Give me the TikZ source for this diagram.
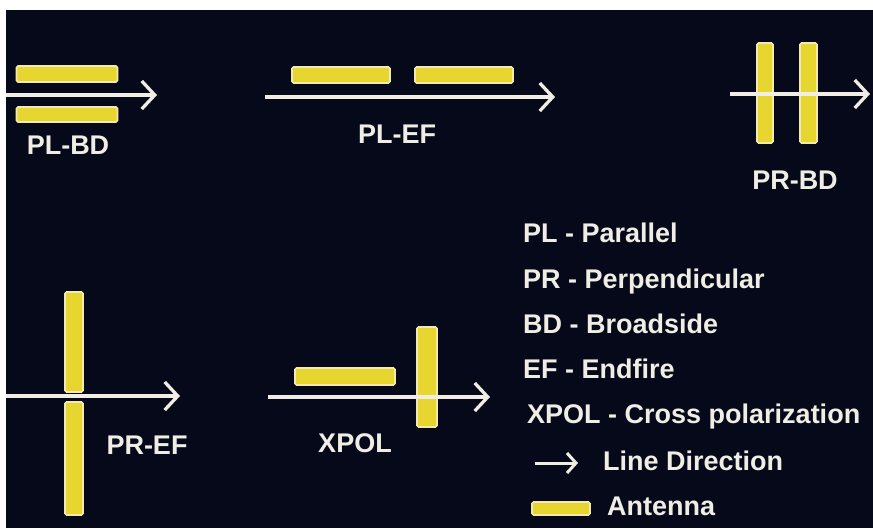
\documentclass[tikz,border=0pt]{standalone}
\usepackage{fontspec}
\setmainfont{Liberation Sans}
\usetikzlibrary{arrows.meta}
\definecolor{bgnavy}{RGB}{5,9,26}
\definecolor{antfill}{RGB}{232,214,48}
\definecolor{antedge}{RGB}{242,234,176}
\definecolor{inkwhite}{RGB}{240,238,228}
\begin{document}
\begin{tikzpicture}[x=1pt,y=-1pt,
  antenna/.style 2 args={draw=antedge, fill=antfill, line width=1.7pt,
    rounded corners=1.5pt, inner sep=0pt, outer sep=0pt,
    minimum width=#1, minimum height=#2},
  dirline/.style={draw=inkwhite, line width=3.3pt,
    -{Straight Barb[length=13pt,width=28pt,line width=3.3pt]}},
  smallline/.style={draw=inkwhite, line width=3pt,
    -{Straight Barb[length=9pt,width=20pt,line width=3pt]}},
  tag/.style={text=inkwhite, font=\fontsize{27}{31}\selectfont\bfseries,
    inner sep=0pt, anchor=base},
  key/.style={tag, anchor=base west}]

\useasboundingbox (0,0) rectangle (873,528);
\fill[white] (0,0) rectangle (873,528);
\fill[bgnavy] (6,10) rectangle (873,528);

% ---- antennas ----
% parallel broadside
\node[antenna={101pt}{16pt}] (bdA) at (67,74) {};
\node[antenna={101pt}{15pt}] (bdB) at (67,114.5) {};
% parallel endfire
\node[antenna={98pt}{16pt}] (efA) at (341,75) {};
\node[antenna={98pt}{16pt}] (efB) at (464,75) {};
% perpendicular broadside
\node[antenna={16pt}{100pt}] (pbA) at (765,93) {};
\node[antenna={17pt}{100pt}] (pbB) at (808.5,93) {};
% perpendicular endfire
\node[antenna={18pt}{100pt}] (peA) at (74,342) {};
\node[antenna={18pt}{113pt}] (peB) at (74,458.5) {};
% cross polarization
\node[antenna={100pt}{17pt}] (xpA) at (345,376.5) {};
\node[antenna={20pt}{100pt}] (xpB) at (427,377) {};
% legend symbol
\node[antenna={58pt}{13pt}] (keyAnt) at (561,508.5) {};

% ---- line directions ----
\coordinate (l1s) at (6,95);    \coordinate (l1e) at (157,95);
\coordinate (l2s) at (265,97);  \coordinate (l2e) at (555,97);
\coordinate (l3s) at (730,94);  \coordinate (l3e) at (870,94);
\coordinate (l4s) at (6,396);   \coordinate (l4e) at (180,396);
\coordinate (l5s) at (268,397); \coordinate (l5e) at (490,397);
\coordinate (l6s) at (535,463); \coordinate (l6e) at (578,463);
\draw[dirline] (l1s) -- (l1e);
\draw[dirline] (l2s) -- (l2e);
\draw[dirline] (l3s) -- (l3e);
\draw[dirline] (l4s) -- (l4e);
\draw[dirline] (l5s) -- (l5e);
\draw[smallline] (l6s) -- (l6e);

% ---- configuration labels ----
\node[tag] (tPLBD) at (68,154) {PL-BD};
\node[tag] (tPLEF) at (397,143) {PL-EF};
\node[tag] (tPRBD) at (795,189) {PR-BD};
\node[tag] (tPREF) at (147,454) {PR-EF};
\node[tag] (tXPOL) at (355,452) {XPOL};

% ---- legend ----
\node[key] (k1) at (523,242) {PL - Parallel};
\node[key] (k2) at (523,288) {PR - Perpendicular};
\node[key] (k3) at (523,333) {BD - Broadside};
\node[key] (k4) at (523,378) {EF - Endfire};
\node[key] (k5) at (527,423) {XPOL - Cross polarization};
\node[key] (k6) at (603,470) {Line Direction};
\node[key] (k7) at (607,515) {Antenna};
\end{tikzpicture}
\end{document}
